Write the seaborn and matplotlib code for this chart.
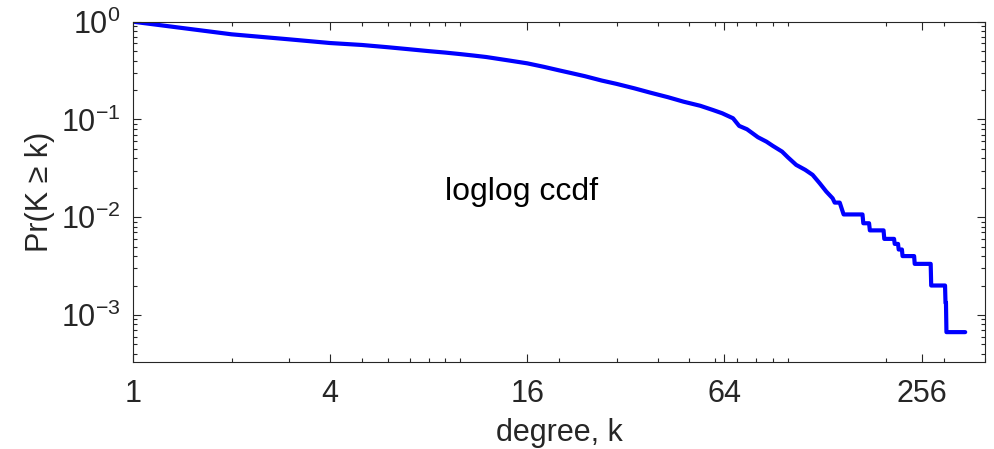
import matplotlib
matplotlib.use("Agg")
import matplotlib.pyplot as plt
from matplotlib.ticker import FixedLocator, FixedFormatter, NullFormatter, LogLocator
import seaborn as sns
import pandas as pd

# Complementary CDF of node degree, Pr(K >= k), sampled at integer degrees
degree = [1, 2, 3, 4, 5, 6, 7, 8, 9, 10, 11, 12, 14, 16, 18, 20, 22, 24, 27, 30,
          34, 38, 43, 48, 54, 59, 63, 68, 71, 75, 78, 81, 86, 90, 96, 100, 106,
          113, 119, 125, 131, 137, 139, 144, 148, 169, 170, 177, 178, 196, 197,
          211, 212, 217, 218, 223, 224, 243, 244, 273, 274, 302, 303, 304, 305,
          348]
ccdf = [1.0, 0.743, 0.66, 0.605, 0.578, 0.548, 0.522, 0.500, 0.483, 0.466,
        0.450, 0.435, 0.402, 0.375, 0.345, 0.318, 0.296, 0.277, 0.250, 0.231,
        0.208, 0.188, 0.169, 0.152, 0.138, 0.125, 0.1157, 0.1028, 0.0859,
        0.0794, 0.0722, 0.0658, 0.0593, 0.0536, 0.0469, 0.041, 0.0343, 0.0305,
        0.0271, 0.0223, 0.0183, 0.0156, 0.0141, 0.0141, 0.01067, 0.01067,
        0.00867, 0.00867, 0.00733, 0.00733, 0.0060, 0.0060, 0.00533, 0.00533,
        0.00467, 0.00467, 0.0040, 0.0040, 0.00333, 0.00333, 0.0020, 0.0020,
        0.00133, 0.00133, 0.000667, 0.000667]

x_major = [1, 4, 16, 64, 256]
x_major_labels = ["1", "4", "16", "64", "256"]
x_minor = [2, 3, 5, 6, 7, 8, 9, 10, 20, 30, 40, 50, 60, 70, 80, 90, 100,
           200, 300, 400]

df = pd.DataFrame({"degree": degree, "ccdf": ccdf})

sns.set_theme(style="ticks")
plt.rcParams["font.family"] = ["Liberation Sans", "DejaVu Sans"]
plt.rcParams["axes.unicode_minus"] = False

ink = "#262626"
fig = plt.figure(figsize=(9.95, 4.49), dpi=100)
fig.patch.set_facecolor("white")
ax = fig.add_axes([133 / 995, 1 - 362 / 449, (985 - 133) / 995, (362 - 21.7) / 449])

sns.lineplot(data=df, x="degree", y="ccdf", color=(0, 0, 1), linewidth=3,
             estimator=None, sort=False, ax=ax)

ax.set_xscale("log", base=2)
ax.set_yscale("log")
ax.set_xlim(1, 400)
ax.set_ylim(3.3e-4, 1)

ax.xaxis.set_major_locator(FixedLocator(x_major))
ax.xaxis.set_major_formatter(FixedFormatter(x_major_labels))
ax.xaxis.set_minor_locator(FixedLocator(x_minor))
ax.xaxis.set_minor_formatter(NullFormatter())
ax.yaxis.set_minor_locator(LogLocator(base=10, subs=range(2, 10), numticks=20))
ax.yaxis.set_minor_formatter(NullFormatter())

for side in ["top", "right", "bottom", "left"]:
    ax.spines[side].set_visible(True)
    ax.spines[side].set_color(ink)
    ax.spines[side].set_linewidth(0.8)

ax.tick_params(which="both", direction="in", top=True, right=True,
               colors=ink, width=0.8, labelsize=22)
ax.tick_params(which="major", length=6)
ax.tick_params(which="minor", length=3)
ax.tick_params(axis="x", which="major", pad=12)
ax.tick_params(axis="y", which="major", pad=9)

ax.set_xlabel("degree, k", fontsize=22, color=ink, labelpad=7)
ax.set_ylabel("Pr(K ≥ k)", fontsize=22, color=ink, labelpad=4)

ax.text(9, 0.018, "loglog ccdf", fontsize=23, color="black",
        ha="left", va="center")

fig.savefig("out.png", dpi=100, facecolor="white")
